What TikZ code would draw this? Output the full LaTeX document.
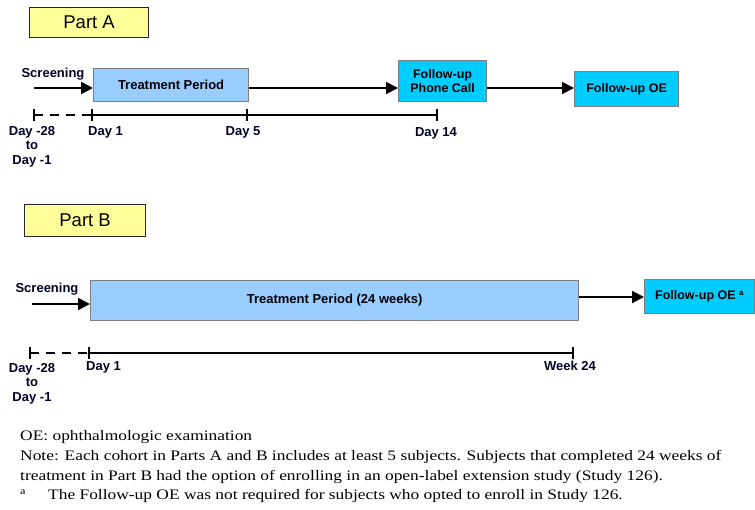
\documentclass[tikz,border=0pt]{standalone}
\usepackage{fontspec}
\setmainfont{Liberation Serif}
\newfontfamily\arialf{Liberation Sans}
\newfontfamily\notef[FakeStretch=1.2]{Liberation Serif}
\usetikzlibrary{arrows.meta}
\definecolor{partyel}{HTML}{FFFF99}
\definecolor{treatblue}{HTML}{99CCFF}
\definecolor{fucyan}{HTML}{00CCFF}
\definecolor{boxgray}{HTML}{7F7F7F}
\tikzset{
  partbox/.style={draw=black!85, line width=1.2pt, fill=partyel, anchor=north west, inner sep=0pt,
    font=\arialf\fontsize{18.5}{20}\selectfont},
  treatbox/.style={draw=boxgray, line width=1.2pt, fill=treatblue, anchor=north west, inner sep=0pt,
    font=\arialf\bfseries\fontsize{13}{14}\selectfont},
  fubox/.style={draw=boxgray, line width=1.2pt, fill=fucyan, anchor=north west, inner sep=0pt, align=center,
    font=\arialf\bfseries\fontsize{12.5}{13.5}\selectfont},
  lbl/.style={inner sep=0pt, font=\arialf\bfseries\fontsize{13}{15.5}\selectfont, text=black!85!blue, align=center},
  arr/.style={line width=2pt, -{Triangle[length=12pt,width=12pt]}},
  tline/.style={line width=2pt},
  tick/.style={line width=2pt},
  note/.style={inner sep=0pt, anchor=west, font=\notef\fontsize{14.5}{16}\selectfont},
}
\begin{document}
\begin{tikzpicture}[x=1pt,y=-1pt]
\useasboundingbox (0,0) rectangle (755,509);
% ---------------- Part A ----------------
\node[partbox, minimum width=119pt, minimum height=30pt] (pA) at (29,7) {Part A};
\node[treatbox, minimum width=155pt, minimum height=33pt] (tA) at (93,68) {Treatment Period};
\node[fubox, minimum width=88pt, minimum height=41pt] (phA) at (398,60) {Follow-up\\Phone Call};
\node[fubox, minimum width=104pt, minimum height=35pt] (oeA) at (574,71) {Follow-up OE};
\coordinate (sA) at (34,88);
\coordinate (yA) at (0,88);
\node[lbl, anchor=south] (scrA) at (53,80) {Screening};
\draw[arr] (sA) -- (tA.west |- yA);
\draw[arr] (tA.east |- yA) -- (phA.west |- yA);
\draw[arr] (phA.east |- yA) -- (oeA.west |- yA);
% timeline A
\coordinate (a0) at (34,115);
\coordinate (a1) at (92,115);
\coordinate (a2) at (247,115);
\coordinate (a3) at (437,115);
\draw[tline, dash pattern=on 9pt off 7pt] (a0) -- (a1);
\draw[tline] (a1) -- (a3);
\foreach \p in {a0,a1,a2,a3} \draw[tick] ([yshift=-6pt]\p) -- ([yshift=6pt]\p);
\node[lbl, anchor=north] (dA0) at (32,126) {Day -28\\[-1pt]to\\[-1pt]Day -1};
\node[lbl, anchor=north west] (dA1) at (88,126) {Day 1};
\node[lbl, anchor=north] (dA2) at (243,126) {Day 5};
\node[lbl, anchor=north] (dA3) at (436,127) {Day 14};
% ---------------- Part B ----------------
\node[partbox, minimum width=121pt, minimum height=32pt] (pB) at (24,204) {Part B};
\node[treatbox, minimum width=488pt, minimum height=40pt] (tB) at (90,280) {Treatment Period (24 weeks)};
\node[fubox, minimum width=110pt, minimum height=34pt] (oeB) at (644,279) {Follow-up OE \textsuperscript{\fontsize{8}{8}\selectfont a}};
\coordinate (sB) at (32,304);
\coordinate (yB) at (0,297);
\node[lbl, anchor=south] (scrB) at (47,295) {Screening};
\draw[arr] (sB) -- (tB.west |- sB);
\draw[arr] (tB.east |- yB) -- (oeB.west |- yB);
% timeline B
\coordinate (b0) at (30,353);
\coordinate (b1) at (89,353);
\coordinate (b2) at (573,353);
\draw[tline, dash pattern=on 9pt off 7pt] (b0) -- (b1);
\draw[tline] (b1) -- (b2);
\foreach \p in {b0,b1,b2} \draw[tick] ([yshift=-6pt]\p) -- ([yshift=6pt]\p);
\node[lbl, anchor=north] (dB0) at (32,363) {Day -28\\[-1pt]to\\[-1pt]Day -1};
\node[lbl, anchor=north west] (dB1) at (86,361) {Day 1};
\node[lbl, anchor=north] (dB2) at (570,361) {Week 24};
% ---------------- Notes ----------------
\node[note] (n1) at (20,437) {OE: ophthalmologic examination};
\node[note] (n2) at (20,457) {Note: Each cohort in Parts A and B includes at least 5 subjects. Subjects that completed 24 weeks of};
\node[note] (n3) at (20,477) {treatment in Part B had the option of enrolling in an open-label extension study (Study 126).};
\node[note] (n4) at (20,496) {\makebox[28pt][l]{\textsuperscript{a}}The Follow-up OE was not required for subjects who opted to enroll in Study 126.};
\end{tikzpicture}
\end{document}
